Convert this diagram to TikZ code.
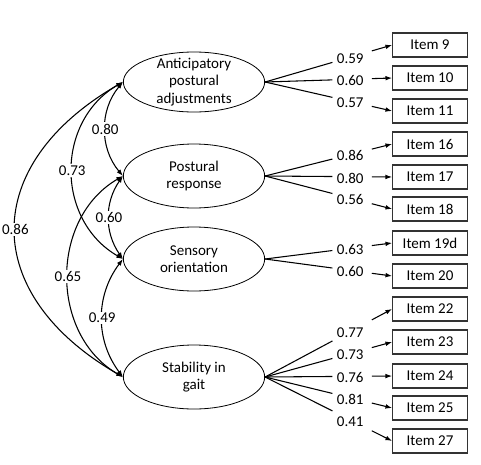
\documentclass[tikz,border=0pt]{standalone}
\usepackage{fontspec}
\setmainfont{Carlito}
\usetikzlibrary{positioning}
\usetikzlibrary{shapes.geometric,arrows.meta}

\begin{document}
\begin{tikzpicture}[x=0.75pt, y=-0.75pt,
        factor/.style={ellipse, draw=black, line width=0.6pt, minimum width=106pt, minimum height=48pt, inner sep=0pt},
        itembox/.style={rectangle, draw=black!80, line width=0.8pt, minimum width=56pt, minimum height=18pt, inner sep=0pt},
        loading/.style={inner sep=0pt, pos=0.67, yshift=-1pt},
        corr/.style={fill=white, inner sep=1pt},
        >={Latex[length=5pt,width=3.5pt]}, font=\fontsize{11.25}{13.2}\selectfont]
        \useasboundingbox (0,0) rectangle (481,464);

        % factors
        \node[factor, minimum height=45pt] (apa) at (194,82) {};
        \node[factor]                     (pr)  at (194,176) {};
        \node[factor]                     (so)  at (194,259) {};
        \node[factor]                     (sg)  at (194,377) {};
        \node[align=center] (apatext) at (apa) {Anticipatory\\postural\\adjustments};
        \node[align=center] (prtext)  at (pr)  {Postural\\response};
        \node[align=center] (sotext)  at (so)  {Sensory\\orientation};
        \node[align=center] (sgtext)  at (sg)  {Stability in\\gait};

        % items
        \foreach \n/\y in {9/45,10/78,11/111,16/144,17/177,18/209,19d/243,20/276,22/309,23/342,24/376,25/408,27/441}
            \node[itembox] (i\n) at (430,\y) {Item \n};

        % loadings, broken where the value sits
        \foreach \f/\n/\v in {apa/9/0.59,apa/10/0.60,apa/11/0.57,pr/16/0.86,pr/17/0.80,pr/18/0.56,so/19d/0.63,so/20/0.60,sg/22/0.77,sg/23/0.73,sg/24/0.76,sg/25/0.81,sg/27/0.41}
        {
            \path (\f.east) -- coordinate[pos=0.53] (cut1\n) node[loading] (v\n) {\v} coordinate[pos=0.84] (cut2\n) (i\n.west);
            \draw[line width=0.8pt] (\f.east) -- (cut1\n);
            \draw[->, line width=0.8pt] (cut2\n) -- (i\n.west);
        }

        % correlations
        \draw[<->, line width=0.8pt] (apa.west) to[bend right=40] node[corr]{0.80} (pr.west);
        \draw[<->, line width=0.8pt] (apa.west) to[bend right=60, looseness=1.13] node[corr]{0.73} (so.west);
        \draw[<->, line width=0.8pt] (apa.west) to[bend right=60, looseness=1.44] node[corr]{0.86} (sg.west);
        \draw[<->, line width=0.8pt] (pr.west) to[bend right=35] node[corr]{0.60} (so.west);
        \draw[<->, line width=0.8pt] (pr.west) to[bend right=60, looseness=1.08] node[corr]{0.65} (sg.west);
        \draw[<->, line width=0.8pt] (so.west) to[bend right=37] node[corr]{0.49} (sg.west);
\end{tikzpicture}
\end{document}
